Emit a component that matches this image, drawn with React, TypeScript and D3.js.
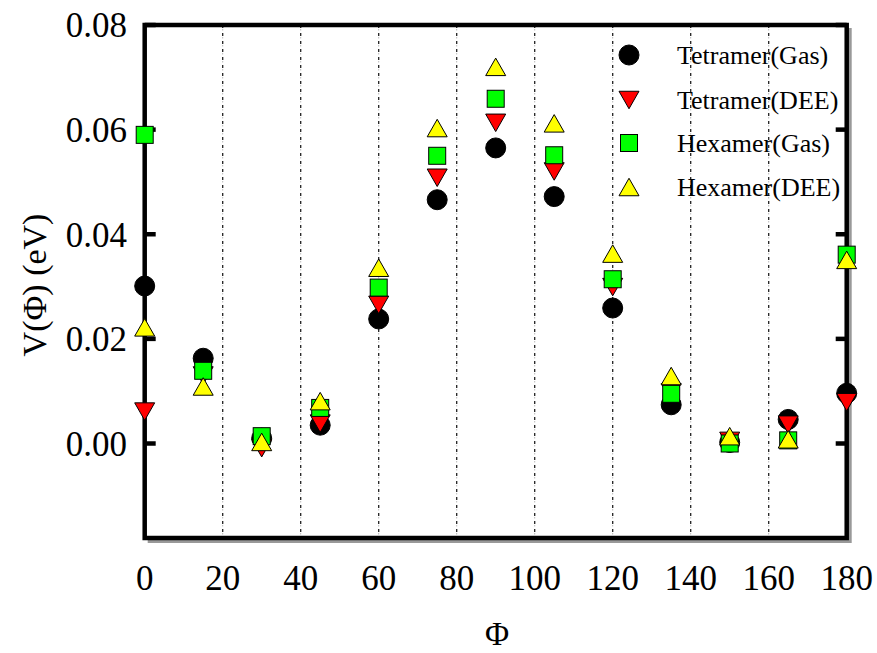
import React from "react";
import * as d3 from "d3";

const phi = [0, 15, 30, 45, 60, 75, 90, 105, 120, 135, 150, 165, 180];
const tetramerGas = [0.0301, 0.0163, 0.001, 0.0035, 0.0238, 0.0466, 0.0565, 0.0472, 0.0259, 0.0074, 0.0002, 0.0046, 0.0096];
const tetramerDEE = [0.0061, 0.013, -0.0009, 0.0038, 0.0265, 0.0508, 0.0613, 0.052, 0.0299, 0.0098, 0.0005, 0.0036, 0.0079];
const hexamerGas = [0.059, 0.0139, 0.0014, 0.0068, 0.0298, 0.055, 0.0659, 0.0551, 0.0314, 0.0095, 0.0, 0.0006, 0.0361];
const hexamerDEE = [0.0222, 0.0109, 0.0003, 0.0081, 0.0336, 0.0603, 0.072, 0.0612, 0.0363, 0.0129, 0.0014, 0.0008, 0.0351];

const seriesNames = ["Tetramer(Gas)", "Tetramer(DEE)", "Hexamer(Gas)", "Hexamer(DEE)"];
const seriesValues = [tetramerGas, tetramerDEE, hexamerGas, hexamerDEE];
const seriesShapes = ["circle", "down", "square", "up"];
const seriesColors = ["#000000", "#ff0000", "#00ff00", "#ffff00"];

const xTicks = [0, 20, 40, 60, 80, 100, 120, 140, 160, 180];
const yTicks = [0, 0.02, 0.04, 0.06, 0.08];
const gridX = [20, 40, 60, 80, 100, 120, 140, 160];

const W = 877;
const H = 653;
const L = 144.7;
const R = 846.7;
const T = 25;
const B = 538;

const x = d3.scaleLinear().domain([0, 180]).range([L, R]);
const y = d3.scaleLinear().domain([0, 0.08]).range([443.5, T]);

const FONT = "'Liberation Serif', 'Times New Roman', serif";

function Marker({ shape, cx, cy, color }: { shape: string; cx: number; cy: number; color: string }) {
  if (shape === "circle") {
    return <circle cx={cx} cy={cy} r={10} fill={color} stroke="#000" strokeWidth={1} />;
  }
  if (shape === "square") {
    const s = 17;
    return <rect x={cx - s / 2} y={cy - s / 2} width={s} height={s} fill={color} stroke="#000" strokeWidth={1} />;
  }
  const w = 20;
  const h = 17.5;
  if (shape === "up") {
    const p = `${cx},${cy - h / 2} ${cx + w / 2},${cy + h / 2} ${cx - w / 2},${cy + h / 2}`;
    return <polygon points={p} fill={color} stroke="#000" strokeWidth={1} />;
  }
  const p = `${cx - w / 2},${cy - h / 2} ${cx + w / 2},${cy - h / 2} ${cx},${cy + h / 2}`;
  return <polygon points={p} fill={color} stroke="#000" strokeWidth={1} />;
}

export default function App() {
  const legendY = [55, 100, 143, 187];
  return (
    <svg
      width={W}
      height={H}
      style={{ position: "absolute", left: 0, top: 0, background: "#fff" }}
      fontFamily={FONT}
    >
      <rect x={0} y={0} width={W} height={H} fill="#fff" />
      {/* grid */}
      {gridX.map((g) => (
        <g key={g}>
          <line x1={x(g)} x2={x(g)} y1={T} y2={B} stroke="#bbb" strokeWidth={1} strokeDasharray="1.5,6.5" strokeDashoffset={-4} />
          <line x1={x(g)} x2={x(g)} y1={T} y2={B} stroke="#222" strokeWidth={1.3} strokeDasharray="3,5" />
        </g>
      ))}
      {/* shadow */}
      <path d={`M${L + 3},${B + 3} H${R + 3} V${T + 3}`} fill="none" stroke="#999" strokeWidth={4} />
      {/* frame */}
      <rect x={L} y={T} width={R - L} height={B - T} fill="none" stroke="#000" strokeWidth={4.5} />
      {/* y ticks */}
      {yTicks.map((t) => (
        <g key={t}>
          <line x1={L} x2={L + 11} y1={y(t)} y2={y(t)} stroke="#000" strokeWidth={4.5} />
          <line x1={R - 11} x2={R} y1={y(t)} y2={y(t)} stroke="#000" strokeWidth={4.5} />
          <text x={127} y={y(t)} dy="0.35em" textAnchor="end" fontSize={35} fill="#000">
            {d3.format(".2f")(t)}
          </text>
        </g>
      ))}
      {/* x tick labels */}
      {xTicks.map((t) => (
        <text key={t} x={x(t)} y={590} textAnchor="middle" fontSize={35} fill="#000">
          {t}
        </text>
      ))}
      {/* axis titles */}
      <text x={497} y={645} textAnchor="middle" fontSize={33} fill="#000">
        Φ
      </text>
      <text transform="translate(46,285) rotate(-90)" textAnchor="middle" fontSize={34} fill="#000">
        V(Φ) (eV)
      </text>
      {/* data */}
      {seriesValues.map((vals, si) => (
        <g key={si}>
          {vals.map((v, i) => (
            <Marker key={i} shape={seriesShapes[si]} cx={x(phi[i])} cy={y(v)} color={seriesColors[si]} />
          ))}
        </g>
      ))}
      {/* legend */}
      {seriesNames.map((n, i) => (
        <g key={n}>
          <Marker shape={seriesShapes[i]} cx={629} cy={legendY[i]} color={seriesColors[i]} />
          <text x={677} y={legendY[i]} dy="0.35em" fontSize={26} fill="#000">
            {n}
          </text>
        </g>
      ))}
    </svg>
  );
}
